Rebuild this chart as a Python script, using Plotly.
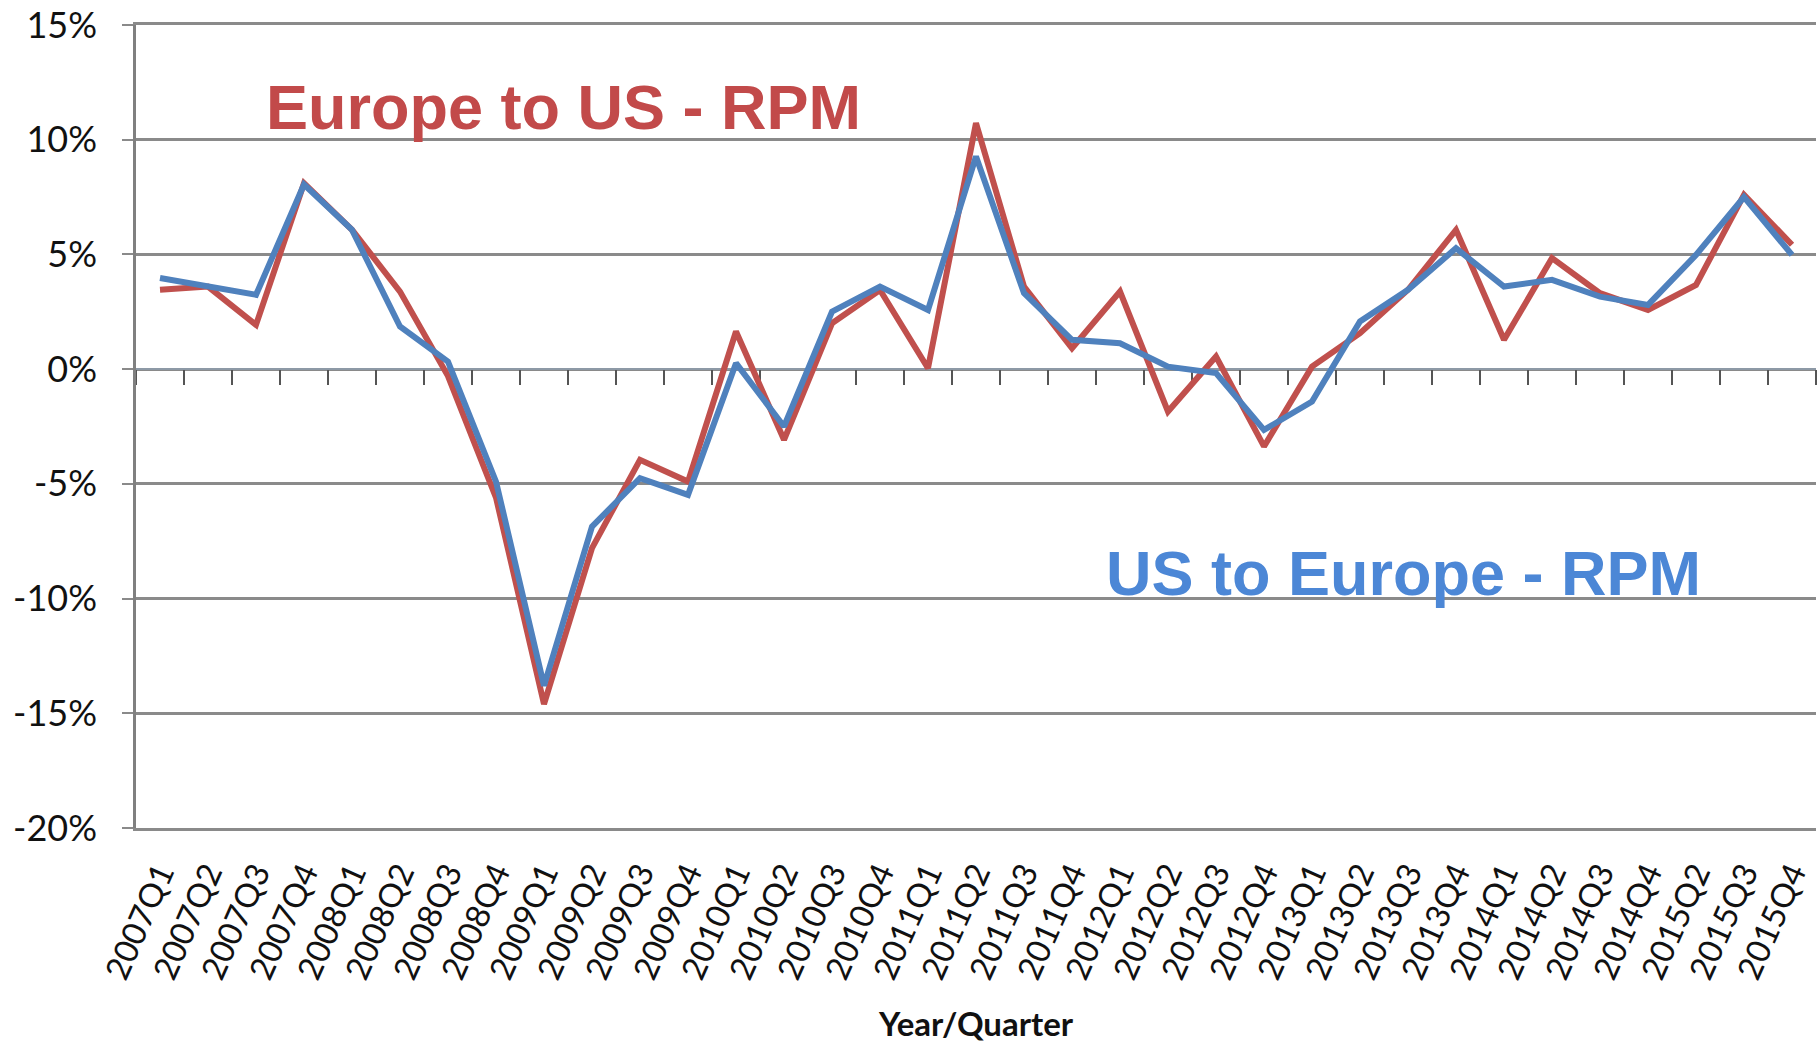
import plotly.graph_objects as go

# Quarterly growth in revenue passenger miles (%), transatlantic markets
quarters = [
    "2007Q1", "2007Q2", "2007Q3", "2007Q4",
    "2008Q1", "2008Q2", "2008Q3", "2008Q4",
    "2009Q1", "2009Q2", "2009Q3", "2009Q4",
    "2010Q1", "2010Q2", "2010Q3", "2010Q4",
    "2011Q1", "2011Q2", "2011Q3", "2011Q4",
    "2012Q1", "2012Q2", "2012Q3", "2012Q4",
    "2013Q1", "2013Q2", "2013Q3", "2013Q4",
    "2014Q1", "2014Q2", "2014Q3", "2014Q4",
    "2015Q2", "2015Q3", "2015Q4",
]

europe_to_us = [
    3.46, 3.6, 1.93, 8.1,
    6.07, 3.38, -0.3, -5.6,
    -14.6, -7.8, -3.95, -4.9,
    1.64, -3.08, 2.0, 3.45,
    0.04, 10.72, 3.6, 0.91,
    3.38, -1.85, 0.55, -3.37,
    0.11, 1.57, 3.46, 6.07,
    1.28, 4.84, 3.31, 2.58,
    3.67, 7.6, 5.42,
]

us_to_europe = [
    3.97, 3.6, 3.24, 8.05,
    6.07, 1.86, 0.33, -4.9,
    -13.8, -6.86, -4.75, -5.48,
    0.26, -2.5, 2.51, 3.6,
    2.58, 9.27, 3.31, 1.28,
    1.13, 0.11, -0.17, -2.65,
    -1.41, 2.08, 3.46, 5.27,
    3.6, 3.89, 3.16, 2.8,
    4.98, 7.5, 4.98,
]

y_ticks = [-20, -15, -10, -5, 0, 5, 10, 15]
y_tick_text = ["-20%", "-15%", "-10%", "-5%", "0%", "5%", "10%", "15%"]

series_labels = ["Europe to US - RPM", "US to Europe - RPM"]
x_title = "Year/Quarter"

RED = "#C0504D"
BLUE = "#4F81BD"
GRID = "#8a8a8a"
Y_MIN, Y_MAX = -20, 15
x_range = [-0.5, len(quarters) - 0.5]

fig = go.Figure()

fig.add_trace(go.Scatter(
    x=quarters, y=europe_to_us, mode="lines", name=series_labels[0],
    line=dict(color=RED, width=6), xaxis="x", yaxis="y",
))
# second series sits on the overlaid category axis that carries the zero line
fig.add_trace(go.Scatter(
    x=quarters, y=us_to_europe, mode="lines", name=series_labels[1],
    line=dict(color=BLUE, width=6), xaxis="x2", yaxis="y",
))

fig.update_layout(
    width=1818, height=1046, autosize=False,
    margin=dict(l=136, r=2, t=25, b=218, pad=0),
    paper_bgcolor="white", plot_bgcolor="white",
    showlegend=False,
    font=dict(family="Lato, Open Sans, sans-serif", color="#1a1a1a"),
    xaxis=dict(
        type="category", categoryorder="array", categoryarray=quarters,
        range=x_range, showgrid=False, zeroline=False,
        showline=True, mirror=True, linecolor=GRID, linewidth=2.5,
        ticks="", tickangle=-66,
        tickfont=dict(family="Lato, sans-serif", size=33, color="#111111"),
        ticklabelstandoff=10,
    ),
    xaxis2=dict(
        type="category", categoryorder="array", categoryarray=quarters,
        range=x_range, overlaying="x", anchor="free",
        position=(0 - Y_MIN) / (Y_MAX - Y_MIN), side="bottom",
        showgrid=False, zeroline=False, showticklabels=False,
        showline=True, linecolor="#8d99a6", linewidth=2,
        ticks="outside", tickson="boundaries", ticklen=15, tickwidth=2,
        tickcolor="#555555", layer="below traces",
    ),
    yaxis=dict(
        range=[Y_MIN, Y_MAX], tickmode="array", tickvals=y_ticks,
        ticktext=y_tick_text, showgrid=True, gridcolor=GRID, gridwidth=2.5,
        zeroline=False, showline=True, linecolor="#808080", linewidth=2.5,
        ticks="outside", ticklen=11, tickwidth=2, tickcolor=GRID,
        tickfont=dict(family="Lato, sans-serif", size=36, color="#111111"),
        ticklabelstandoff=18,
    ),
)

fig.add_annotation(
    text=series_labels[0], xref="paper", yref="y", x=0.2542, y=11.43,
    xanchor="center", yanchor="middle", showarrow=False,
    font=dict(family="Liberation Sans, Arial, sans-serif", size=63, color="#C24A4A",
              weight="bold"),
)
fig.add_annotation(
    text=series_labels[1], xref="paper", yref="y", x=0.7545, y=-8.88,
    xanchor="center", yanchor="middle", showarrow=False,
    font=dict(family="Liberation Sans, Arial, sans-serif", size=63, color="#4C87D6",
              weight="bold"),
)
fig.add_annotation(
    text=x_title, xref="paper", yref="paper", x=0.5, y=-0.2428,
    xanchor="center", yanchor="middle", showarrow=False,
    font=dict(family="Lato, sans-serif", size=33, color="#111111", weight="bold"),
)

fig.write_html("out.html")
